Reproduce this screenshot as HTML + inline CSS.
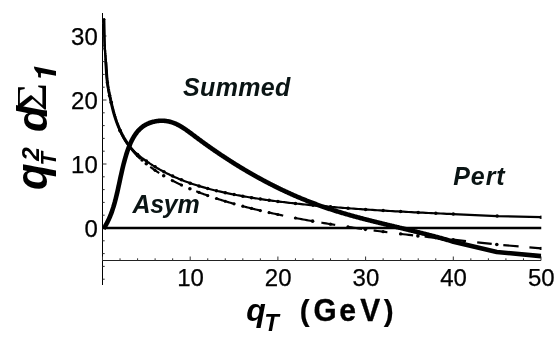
<!DOCTYPE html>
<html><head><meta charset="utf-8"><title>plot</title>
<style>
html,body{margin:0;padding:0;background:#fff;}
body{width:555px;height:345px;overflow:hidden;font-family:"Liberation Sans",sans-serif;}
svg{display:block;will-change:transform;opacity:0.999}
text{font-family:"Liberation Sans",sans-serif;fill:#000}
.tl{font-size:22.5px}
.lb{font-weight:bold;font-style:italic;font-size:25px;fill:#0a1414}
</style></head><body>
<svg width="555" height="345" viewBox="0 0 555 345">
<rect width="555" height="345" fill="#fff"/>
<g stroke="#000" stroke-width="1" fill="none">
<path d="M102.5,13 V285"/>
<path d="M102,260.5 H541" stroke="#222"/>
<path d="M102.50,260.5 V256.5" stroke="#333"/><path d="M120.04,260.5 V258.3" stroke="#333"/><path d="M137.58,260.5 V258.3" stroke="#333"/><path d="M155.12,260.5 V258.3" stroke="#333"/><path d="M172.66,260.5 V258.3" stroke="#333"/><path d="M190.20,260.5 V256.5" stroke="#333"/><path d="M207.74,260.5 V258.3" stroke="#333"/><path d="M225.28,260.5 V258.3" stroke="#333"/><path d="M242.82,260.5 V258.3" stroke="#333"/><path d="M260.36,260.5 V258.3" stroke="#333"/><path d="M277.90,260.5 V256.5" stroke="#333"/><path d="M295.44,260.5 V258.3" stroke="#333"/><path d="M312.98,260.5 V258.3" stroke="#333"/><path d="M330.52,260.5 V258.3" stroke="#333"/><path d="M348.06,260.5 V258.3" stroke="#333"/><path d="M365.60,260.5 V256.5" stroke="#333"/><path d="M383.14,260.5 V258.3" stroke="#333"/><path d="M400.68,260.5 V258.3" stroke="#333"/><path d="M418.22,260.5 V258.3" stroke="#333"/><path d="M435.76,260.5 V258.3" stroke="#333"/><path d="M453.30,260.5 V256.5" stroke="#333"/><path d="M470.84,260.5 V258.3" stroke="#333"/><path d="M488.38,260.5 V258.3" stroke="#333"/><path d="M505.92,260.5 V258.3" stroke="#333"/><path d="M523.46,260.5 V258.3" stroke="#333"/><path d="M541.00,260.5 V256.5" stroke="#333"/><path d="M102.5,279.20 H104.7" stroke="#333"/><path d="M102.5,266.40 H104.7" stroke="#333"/><path d="M102.5,253.60 H104.7" stroke="#333"/><path d="M102.5,240.80 H104.7" stroke="#333"/><path d="M102.5,228.00 H106.5" stroke="#333"/><path d="M102.5,215.20 H104.7" stroke="#333"/><path d="M102.5,202.40 H104.7" stroke="#333"/><path d="M102.5,189.60 H104.7" stroke="#333"/><path d="M102.5,176.80 H104.7" stroke="#333"/><path d="M102.5,164.00 H106.5" stroke="#333"/><path d="M102.5,151.20 H104.7" stroke="#333"/><path d="M102.5,138.40 H104.7" stroke="#333"/><path d="M102.5,125.60 H104.7" stroke="#333"/><path d="M102.5,112.80 H104.7" stroke="#333"/><path d="M102.5,100.00 H106.5" stroke="#333"/><path d="M102.5,87.20 H104.7" stroke="#333"/><path d="M102.5,74.40 H104.7" stroke="#333"/><path d="M102.5,61.60 H104.7" stroke="#333"/><path d="M102.5,48.80 H104.7" stroke="#333"/><path d="M102.5,36.00 H106.5" stroke="#333"/><path d="M102.5,23.20 H104.7" stroke="#333"/>
</g>
<defs><clipPath id="cp"><rect x="102" y="10" width="439.5" height="255"/></clipPath></defs>
<g clip-path="url(#cp)">
<path d="M102.5,228 H541.5" stroke="#000" stroke-width="2.3" fill="none"/>
<g stroke="#000" stroke-width="2.2" fill="none" stroke-linejoin="round"><path d="M104.10,19.02 L104.11,20.18 L104.13,21.31 L104.14,22.41 L104.16,23.48 L104.17,24.52 L104.19,25.53 L104.20,26.52 L104.22,27.48 L104.23,28.41 L104.25,29.32 L104.27,30.20 L104.28,31.06 L104.30,31.90 L104.31,32.71 L104.33,33.49 L104.35,34.26 L104.36,35.00 L104.38,35.72 L104.40,36.42 L104.42,37.11 L104.43,37.77 L104.45,38.41 L104.47,39.03 L104.49,39.63 L104.50,40.22 L104.52,40.79 L104.54,41.35 L104.56,41.88 L104.58,42.41 L104.60,42.91 L104.61,43.40 L104.63,43.88 L104.65,44.35 L104.67,44.80 L104.69,45.24 L104.71,45.67 L104.73,46.09 L104.75,46.50 L104.77,46.89 L104.79,47.28 L104.81,47.66 L104.83,48.03 L104.86,48.39 L104.88,48.75 L104.90,49.10 L104.92,49.44 L104.94,49.77 L104.96,50.10 L104.99,50.43 L105.01,50.75 L105.03,51.07 L105.05,51.39 L105.08,51.70 L105.10,52.01 L105.12,52.32 L105.15,52.63 L105.17,52.94 L105.20,53.24 L105.22,53.55 L105.25,53.86 L105.27,54.18 L105.30,54.49 L105.32,54.81 L105.35,55.13 L105.37,55.45 L105.40,55.78 L105.42,56.12 L105.45,56.46 L105.48,56.80 L105.50,57.16 L105.53,57.52 L105.56,57.88 L105.59,58.26 L105.61,58.64 L105.64,59.04 L105.67,59.44 L105.70,59.86 L105.73,60.28 L105.76,60.72 L105.79,61.16 L105.82,61.62 L105.85,62.08 L105.88,62.55 L105.91,63.03 L105.94,63.52 L105.97,64.01 L106.00,64.50 L106.03,65.01 L106.06,65.51 L106.10,66.02 L106.13,66.54 L106.16,67.05 L106.19,67.57 L106.23,68.09 L106.26,68.61 L106.30,69.13 L106.33,69.65 L106.36,70.17 L106.40,70.69 L106.43,71.21 L106.47,71.72 L106.51,72.23 L106.54,72.73 L106.58,73.24 L106.62,73.73 L106.65,74.23 L106.69,74.72 L106.73,75.20 L106.77,75.68 L106.80,76.16 L106.84,76.63 L106.88,77.10 L106.92,77.56 L106.96,78.02 L107.00,78.48 L107.04,78.93 L107.08,79.37 L107.13,79.82 L107.17,80.25 L107.21,80.68 L107.25,81.11 L107.30,81.53 L107.34,81.95 L107.38,82.36 L107.43,82.77 L107.47,83.17 L107.52,83.57 L107.56,83.96 L107.61,84.34 L107.65,84.73 L107.70,85.10 L107.75,85.47 L107.79,85.84 L107.84,86.20 L107.89,86.56 L107.94,86.91 L107.99,87.26 L108.04,87.60 L108.09,87.94 L108.14,88.28 L108.19,88.61 L108.24,88.94 L108.29,89.26 L108.35,89.58 L108.40,89.90 L108.45,90.22 L108.51,90.53 L108.56,90.84 L108.61,91.14 L108.67,91.44 L108.73,91.74 L108.78,92.04 L108.84,92.34 L108.90,92.63 L108.95,92.92 L109.01,93.21 L109.07,93.49 L109.13,93.78 L109.19,94.06 L109.25,94.34 L109.31,94.62 L109.37,94.90 L109.43,95.18 L109.50,95.46 L109.56,95.73 L109.62,96.01 L109.69,96.28 L109.75,96.55 L109.82,96.83 L109.89,97.10 L109.95,97.37 L110.02,97.65 L110.09,97.92 L110.16,98.19 L110.23,98.47 L110.30,98.74 L110.37,99.01 L110.44,99.29 L110.51,99.56 L110.58,99.84 L110.65,100.12 L110.73,100.40 L110.80,100.68 L110.88,100.96 L110.95,101.24 L111.03,101.53 L111.11,101.81 L111.18,102.10 L111.26,102.39 L111.34,102.68 L111.42,102.98 L111.50,103.28 L111.58,103.58 L111.67,103.88 L111.75,104.18 L111.83,104.49 L111.92,104.80 L112.00,105.12 L112.09,105.43 L112.17,105.75 L112.26,106.08 L112.35,106.41 L112.44,106.74 L112.53,107.07 L112.62,107.41 L112.71,107.75 L112.80,108.09 L112.90,108.43 L112.99,108.78 L113.08,109.13 L113.18,109.49 L113.28,109.84 L113.37,110.20 L113.47,110.56 L113.57,110.92 L113.67,111.29 L113.77,111.65 L113.87,112.02 L113.98,112.40 L114.08,112.77 L114.19,113.14 L114.29,113.52 L114.40,113.90 L114.51,114.28 L114.61,114.66 L114.72,115.04 L114.83,115.43 L114.95,115.81 L115.06,116.20 L115.17,116.58 L115.29,116.97 L115.40,117.36 L115.52,117.75 L115.64,118.14 L115.75,118.54 L115.87,118.93 L116.00,119.32 L116.12,119.72 L116.24,120.11 L116.36,120.51 L116.49,120.90 L116.62,121.30 L116.74,121.69 L116.87,122.09 L117.00,122.48 L117.13,122.88 L117.27,123.27 L117.40,123.67 L117.53,124.06 L117.67,124.46 L117.81,124.85 L117.95,125.24 L118.09,125.64 L118.23,126.03 L118.37,126.42 L118.51,126.81 L118.66,127.20 L118.80,127.59 L118.95,127.97 L119.10,128.36 L119.25,128.74 L119.40,129.13 L119.55,129.51 L119.71,129.89 L119.86,130.27 L120.02,130.65 L120.18,131.02 L120.34,131.40 L120.50,131.77 L120.66,132.14 L120.82,132.51 L120.99,132.88 L121.16,133.24 L121.33,133.61 L121.50,133.97 L121.67,134.33 L121.84,134.69 L122.02,135.05 L122.19,135.41 L122.37,135.76 L122.55,136.11 L122.73,136.46 L122.91,136.81 L123.10,137.16 L123.28,137.51 L123.47,137.85 L123.66,138.19 L123.85,138.53 L124.05,138.87 L124.24,139.21 L124.44,139.54 L124.64,139.87 L124.84,140.20 L125.04,140.53 L125.24,140.86 L125.45,141.18 L125.65,141.50 L125.86,141.82 L126.07,142.14 L126.29,142.46 L126.50,142.77 L126.72,143.08 L126.94,143.39 L127.16,143.70 L127.38,144.01 L127.61,144.31 L127.83,144.61 L128.06,144.91 L128.29,145.21 L128.53,145.51 L128.76,145.80 L129.00,146.09 L129.24,146.38 L129.48,146.67 L129.73,146.95 L129.97,147.23 L130.22,147.51 L130.47,147.79 L130.72,148.07 L130.98,148.35 L131.24,148.62 L131.49,148.89 L131.76,149.17 L132.02,149.44 L132.29,149.70 L132.56,149.97 L132.83,150.24 L133.10,150.50 L133.38,150.77 L133.66,151.03 L133.94,151.30 L134.22,151.56 L134.51,151.82 L134.80,152.08 L135.09,152.34 L135.39,152.60 L135.68,152.86 L135.98,153.12 L136.29,153.38 L136.59,153.64 L136.90,153.90 L137.21,154.16 L137.53,154.41 L137.84,154.67 L138.16,154.93 L138.48,155.19 L138.81,155.45 L139.14,155.71 L139.47,155.97 L139.80,156.23 L140.14,156.50 L140.48,156.76 L140.82,157.02 L141.17,157.29 L141.52,157.55 L141.87,157.82 L142.23,158.08 L142.59,158.35 L142.95,158.62 L143.31,158.89 L143.68,159.16 L144.05,159.43 L144.43,159.71 L144.81,159.98 L145.19,160.26 L145.58,160.53 L145.97,160.81 L146.36,161.08 L146.76,161.36 L147.16,161.64 L147.56,161.92 L147.97,162.20 L148.38,162.48 L148.79,162.76 L149.21,163.04 L149.63,163.33 L150.06,163.61 L150.49,163.89 L150.92,164.18 L151.36,164.46 L151.80,164.75 L152.25,165.03 L152.70,165.32 L153.15,165.61 L153.61,165.89 L154.07,166.18 L154.54,166.47 L155.01,166.76 L155.48,167.05 L155.96,167.33 L156.44,167.62 L156.93,167.91 L157.42,168.20 L157.92,168.49 L158.42,168.78 L158.93,169.07 L159.44,169.37 L159.95,169.66 L160.47,169.95 L160.99,170.24 L161.52,170.53 L162.06,170.82 L162.59,171.11 L163.14,171.40 L163.68,171.70 L164.24,171.99 L164.80,172.28 L165.36,172.57 L165.93,172.86 L166.50,173.15 L167.08,173.44 L167.66,173.74 L168.25,174.03 L168.84,174.32 L169.44,174.61 L170.05,174.90 L170.66,175.19 L171.28,175.48 L171.90,175.77 L172.52,176.06 L173.16,176.35 L173.80,176.64 L174.44,176.92 L175.09,177.21 L175.75,177.50 L176.41,177.79 L177.08,178.07 L177.75,178.36 L178.43,178.65 L179.12,178.93 L179.81,179.22 L180.51,179.50 L181.21,179.78 L181.93,180.07 L182.64,180.35 L183.37,180.63 L184.10,180.91 L184.84,181.19 L185.58,181.47 L186.33,181.75 L187.09,182.03 L187.85,182.31 L188.62,182.58 L189.40,182.86 L190.19,183.14 L190.98,183.41 L191.78,183.68 L192.59,183.96 L193.40,184.23 L194.22,184.50 L195.05,184.77 L195.89,185.04 L196.73,185.31 L197.58,185.57 L198.44,185.84 L199.31,186.10 L200.19,186.37 L201.07,186.63 L201.96,186.89 L202.86,187.16 L203.76,187.42 L204.68,187.67 L205.60,187.93 L206.54,188.19 L207.48,188.45 L208.42,188.70 L209.38,188.95 L210.35,189.21 L211.32,189.46 L212.31,189.71 L213.30,189.96 L214.30,190.21 L215.31,190.46 L216.33,190.71 L217.36,190.95 L218.40,191.20 L219.44,191.44 L220.50,191.68 L221.57,191.93 L222.64,192.17 L223.73,192.41 L224.83,192.65 L225.93,192.88 L227.05,193.12 L228.17,193.36 L229.31,193.59 L230.45,193.83 L231.61,194.06 L232.78,194.29 L233.95,194.52 L235.14,194.76 L236.34,194.98 L237.55,195.21 L238.77,195.44 L240.00,195.67 L241.25,195.89 L242.50,196.12 L243.77,196.34 L245.04,196.56 L246.33,196.78 L247.63,197.01 L248.94,197.23 L250.27,197.44 L251.60,197.66 L252.95,197.88 L254.31,198.09 L255.68,198.31 L257.06,198.52 L258.46,198.74 L259.87,198.95 L261.29,199.16 L262.73,199.37 L264.18,199.58 L265.64,199.79 L267.11,199.99 L268.60,200.20 L270.10,200.40 L271.62,200.61 L273.14,200.81 L274.69,201.01 L276.24,201.22 L277.81,201.42 L279.40,201.62 L281.00,201.81 L282.61,202.01 L284.24,202.21 L285.88,202.40 L287.54,202.60 L289.21,202.79 L290.90,202.99 L292.60,203.18 L294.32,203.37 L296.05,203.56 L297.80,203.75 L299.57,203.94 L301.35,204.12 L303.14,204.31 L304.96,204.49 L306.79,204.68 L308.63,204.86 L310.50,205.04 L312.38,205.23 L314.27,205.41 L316.19,205.59 L318.12,205.76 L320.07,205.94 L322.03,206.12 L324.02,206.30 L326.02,206.47 L328.04,206.64 L330.08,206.82 L332.13,206.99 L334.21,207.16 L336.30,207.33 L338.42,207.50 L340.55,207.67 L342.70,207.84 L344.87,208.00 L347.06,208.17 L349.27,208.33 L351.50,208.50 L353.75,208.66 L356.02,208.82 L358.32,208.98 L360.63,209.14 L362.96,209.30 L365.31,209.46 L367.69,209.62 L370.09,209.77 L372.50,209.93 L374.95,210.08 L377.41,210.24 L379.89,210.39 L382.40,210.54 L384.93,210.69 L387.48,210.84 L390.06,210.99 L392.66,211.14 L395.28,211.29 L397.92,211.43 L400.59,211.58 L403.29,211.72 L406.01,211.87 L408.75,212.01 L411.52,212.15 L414.31,212.29 L417.13,212.43 L419.97,212.57 L422.84,212.71 L425.74,212.85 L428.66,212.98 L431.61,213.12 L434.58,213.25 L437.58,213.39 L440.61,213.52 L443.67,213.65 L446.75,213.78 L449.86,213.91 L453.00,214.04 L496.80,216.10 L541.00,217.20"/></g>
<g fill="#000"><circle cx="104.10" cy="19.3" r="1.2"/><circle cx="104.70" cy="45.5" r="1.2"/><circle cx="105.69" cy="59.7" r="1.2"/><circle cx="106.41" cy="70.8" r="1.2"/><circle cx="107.41" cy="82.63" r="1.75"/><circle cx="109.52" cy="95.54" r="1.75"/><circle cx="111.27" cy="102.42" r="1.75"/><circle cx="120.04" cy="130.70" r="1.75"/><circle cx="128.81" cy="145.86" r="1.75"/><circle cx="137.58" cy="154.46" r="1.75"/><circle cx="146.35" cy="161.08" r="1.75"/><circle cx="155.12" cy="166.83" r="1.75"/><circle cx="163.89" cy="171.80" r="1.75"/><circle cx="172.66" cy="176.12" r="1.75"/><circle cx="181.43" cy="179.87" r="1.75"/><circle cx="190.20" cy="183.14" r="1.75"/><circle cx="198.97" cy="186.00" r="1.75"/><circle cx="207.74" cy="188.52" r="1.75"/><circle cx="216.51" cy="190.75" r="1.75"/><circle cx="225.28" cy="192.74" r="1.75"/><circle cx="234.05" cy="194.54" r="1.75"/><circle cx="242.82" cy="196.17" r="1.75"/><circle cx="251.59" cy="197.66" r="1.75"/><circle cx="260.36" cy="199.02" r="1.75"/><circle cx="269.13" cy="200.27" r="1.75"/><circle cx="277.90" cy="201.43" r="1.75"/><circle cx="295.44" cy="203.49" r="1.75"/><circle cx="312.98" cy="205.28" r="1.75"/><circle cx="330.52" cy="206.85" r="1.75"/><circle cx="348.06" cy="208.24" r="1.75"/><circle cx="365.60" cy="209.48" r="1.75"/><circle cx="383.14" cy="210.59" r="1.75"/><circle cx="400.68" cy="211.58" r="1.75"/><circle cx="418.22" cy="212.49" r="1.75"/><circle cx="435.76" cy="213.31" r="1.75"/><circle cx="453.30" cy="214.06" r="1.75"/><circle cx="497.15" cy="216.11" r="1.75"/><circle cx="541.00" cy="217.20" r="1.75"/></g>
<g stroke="#000" stroke-width="2.15" fill="none" stroke-linejoin="round"><path d="M104.10,19.02 L104.11,20.22 L104.13,21.39 L104.14,22.53 L104.16,23.63 L104.17,24.70 L104.19,25.74 L104.20,26.75 L104.22,27.73 L104.23,28.68 L104.25,29.60 L104.27,30.50 L104.28,31.36 L104.30,32.20 L104.31,33.02 L104.33,33.81 L104.35,34.57 L104.36,35.31 L104.38,36.03 L104.40,36.73 L104.42,37.40 L104.43,38.05 L104.45,38.68 L104.47,39.29 L104.49,39.88 L104.50,40.45 L104.52,41.00 L104.54,41.54 L104.56,42.05 L104.58,42.55 L104.60,43.04 L104.61,43.51 L104.63,43.97 L104.65,44.41 L104.67,44.83 L104.69,45.25 L104.71,45.65 L104.73,46.05 L104.75,46.43 L104.77,46.80 L104.79,47.16 L104.81,47.51 L104.83,47.85 L104.86,48.19 L104.88,48.52 L104.90,48.84 L104.92,49.16 L104.94,49.47 L104.96,49.78 L104.99,50.08 L105.01,50.38 L105.03,50.68 L105.05,50.98 L105.08,51.27 L105.10,51.56 L105.12,51.86 L105.15,52.15 L105.17,52.45 L105.20,52.74 L105.22,53.04 L105.25,53.34 L105.27,53.65 L105.30,53.96 L105.32,54.27 L105.35,54.60 L105.37,54.92 L105.40,55.26 L105.42,55.60 L105.45,55.95 L105.48,56.30 L105.50,56.67 L105.53,57.05 L105.56,57.44 L105.59,57.83 L105.61,58.24 L105.64,58.67 L105.67,59.10 L105.70,59.55 L105.73,60.02 L105.76,60.50 L105.79,60.99 L105.82,61.49 L105.85,62.00 L105.88,62.52" stroke-width="2.3"/><path d="M105.88,62.52 L105.91,63.05 L105.94,63.59 L105.97,64.13 L106.00,64.68 L106.03,65.24 L106.06,65.80 L106.10,66.36 L106.13,66.92 L106.16,67.49 L106.19,68.05 L106.23,68.61 L106.26,69.17 L106.30,69.73 L106.33,70.29 L106.36,70.84 L106.40,71.38 L106.43,71.91 L106.47,72.44 L106.51,72.96 L106.54,73.47 L106.58,73.97 L106.62,74.46 L106.65,74.94 L106.69,75.42 L106.73,75.88 L106.77,76.34 L106.80,76.79 L106.84,77.23 L106.88,77.66 L106.92,78.08 L106.96,78.50 L107.00,78.91 L107.04,79.31 L107.08,79.70 L107.13,80.09 L107.17,80.48 L107.21,80.85 L107.25,81.22 L107.30,81.59 L107.34,81.94 L107.38,82.30 L107.43,82.64 L107.47,82.99 L107.52,83.32 L107.56,83.66 L107.61,83.99 L107.65,84.31 L107.70,84.63 L107.75,84.95 L107.79,85.26 L107.84,85.57 L107.89,85.87 L107.94,86.18 L107.99,86.48 L108.04,86.77 L108.09,87.07 L108.14,87.36 L108.19,87.65 L108.24,87.94 L108.29,88.22 L108.35,88.51 L108.40,88.79 L108.45,89.08 L108.51,89.36 L108.56,89.64 L108.61,89.92 L108.67,90.20 L108.73,90.48 L108.78,90.76 L108.84,91.04 L108.90,91.32 L108.95,91.60 L109.01,91.88 L109.07,92.16 L109.13,92.45 L109.19,92.74 L109.25,93.02 L109.31,93.31 L109.37,93.60 L109.43,93.90 L109.50,94.19 L109.56,94.49 L109.62,94.79 L109.69,95.10 L109.75,95.41 L109.82,95.72 L109.89,96.03 L109.95,96.35 L110.02,96.68 L110.09,97.00 L110.16,97.33 L110.23,97.67 L110.30,98.01 L110.37,98.35 L110.44,98.69 L110.51,99.04 L110.58,99.39 L110.65,99.75 L110.73,100.10 L110.80,100.46 L110.88,100.82 L110.95,101.18 L111.03,101.55 L111.11,101.92 L111.18,102.28 L111.26,102.65 L111.34,103.02 L111.42,103.39 L111.50,103.77 L111.58,104.14 L111.67,104.51 L111.75,104.89 L111.83,105.26 L111.92,105.63 L112.00,106.01 L112.09,106.38 L112.17,106.75 L112.26,107.12 L112.35,107.49 L112.44,107.86 L112.53,108.23 L112.62,108.60 L112.71,108.97 L112.80,109.34 L112.90,109.71 L112.99,110.07 L113.08,110.44 L113.18,110.81 L113.28,111.17 L113.37,111.53 L113.47,111.90 L113.57,112.26 L113.67,112.62 L113.77,112.99 L113.87,113.35 L113.98,113.71 L114.08,114.07 L114.19,114.43 L114.29,114.79 L114.40,115.15 L114.51,115.51 L114.61,115.86 L114.72,116.22 L114.83,116.58 L114.95,116.93 L115.06,117.29 L115.17,117.65 L115.29,118.00 L115.40,118.35 L115.52,118.71 L115.64,119.06 L115.75,119.41 L115.87,119.77 L116.00,120.12 L116.12,120.47 L116.24,120.82 L116.36,121.17 L116.49,121.52 L116.62,121.87 L116.74,122.22 L116.87,122.57 L117.00,122.92 L117.13,123.26 L117.27,123.61 L117.40,123.96 L117.53,124.30 L117.67,124.65 L117.81,125.00 L117.95,125.34 L118.09,125.69 L118.23,126.03 L118.37,126.38 L118.51,126.72 L118.66,127.06 L118.80,127.41 L118.95,127.75 L119.10,128.09 L119.25,128.43 L119.40,128.77 L119.55,129.11 L119.71,129.45 L119.86,129.80 L120.02,130.14 L120.18,130.47 L120.34,130.81 L120.50,131.15 L120.66,131.49 L120.82,131.83 L120.99,132.17 L121.16,132.51 L121.33,132.84 L121.50,133.18 L121.67,133.52 L121.84,133.85 L122.02,134.19 L122.19,134.53 L122.37,134.86 L122.55,135.20 L122.73,135.53 L122.91,135.87 L123.10,136.20 L123.28,136.53 L123.47,136.87 L123.66,137.20 L123.85,137.54 L124.05,137.87 L124.24,138.20 L124.44,138.53 L124.64,138.87 L124.84,139.20 L125.04,139.53 L125.24,139.86 L125.45,140.19 L125.65,140.52 L125.86,140.86 L126.07,141.19 L126.29,141.52 L126.50,141.85 L126.72,142.18 L126.94,142.51 L127.16,142.84 L127.38,143.17 L127.61,143.50 L127.83,143.83 L128.06,144.16 L128.29,144.48 L128.53,144.81 L128.76,145.14 L129.00,145.47 L129.24,145.80 L129.48,146.13 L129.73,146.46 L129.97,146.78 L130.22,147.11 L130.47,147.44 L130.72,147.77 L130.98,148.09 L131.24,148.42 L131.49,148.75 L131.76,149.08 L132.02,149.40 L132.29,149.73 L132.56,150.06 L132.83,150.38 L133.10,150.71 L133.38,151.04 L133.66,151.36 L133.94,151.69 L134.22,152.02 L134.51,152.34 L134.80,152.67 L135.09,153.00 L135.39,153.32 L135.68,153.65 L135.98,153.97 L136.29,154.30 L136.59,154.63 L136.90,154.95 L137.21,155.28 L137.53,155.60 L137.84,155.93 L138.16,156.25 L138.48,156.58 L138.81,156.91 L139.14,157.23 L139.47,157.56 L139.80,157.88" stroke-width="3.0" stroke-linecap="round"/><path d="M150.20,166.77 L150.49,166.99 L150.92,167.31 L151.36,167.64 L151.80,167.96 L152.25,168.29 L152.70,168.61 L153.15,168.94 L153.61,169.26 L154.07,169.59 L154.54,169.91 L155.01,170.24 L155.48,170.57 L155.96,170.89 L156.44,171.22 L156.93,171.54 L157.42,171.87 L157.92,172.19 L158.42,172.52 L158.93,172.84 L159.20,173.02"/><path d="M171.00,179.87 L171.28,180.02 L171.90,180.34 L172.52,180.67 L173.16,181.00 L173.80,181.32 L174.44,181.65 L175.09,181.98 L175.75,182.30 L176.41,182.63 L177.08,182.96 L177.75,183.28 L178.43,183.61 L179.12,183.94 L179.81,184.27 L180.51,184.59 L181.21,184.92 L181.93,185.25 L182.64,185.58 L182.70,185.60"/><path d="M196.20,191.29 L196.73,191.50 L197.58,191.83 L198.44,192.16 L199.31,192.49 L200.19,192.82 L201.07,193.15 L201.96,193.48 L202.86,193.81 L203.76,194.14 L204.68,194.47 L205.60,194.80 L206.54,195.13 L207.48,195.46 L208.42,195.80 L208.80,195.93"/><path d="M215.80,198.28 L216.33,198.45 L217.36,198.78 L218.40,199.12 L219.44,199.45 L220.50,199.78 L221.57,200.11 L222.64,200.45 L223.73,200.78 L224.83,201.11 L225.93,201.45 L227.05,201.78 L228.17,202.11 L229.31,202.45 L230.45,202.78 L231.61,203.11 L232.78,203.45 L233.95,203.78 L235.00,204.08"/><path d="M242.20,206.04 L242.50,206.12 L243.77,206.45 L245.04,206.79 L246.33,207.12 L247.63,207.46 L248.94,207.79 L250.27,208.12 L251.60,208.46 L252.95,208.79 L254.31,209.13 L255.68,209.46 L257.06,209.79 L258.46,210.13 L259.87,210.46 L260.70,210.66"/><path d="M268.00,212.33 L268.60,212.46 L270.10,212.80 L271.62,213.13 L273.14,213.47 L274.69,213.80 L276.24,214.13 L277.81,214.47 L279.40,214.80 L281.00,215.13 L282.61,215.46 L283.20,215.59"/><path d="M295.00,217.93 L296.05,218.13 L297.80,218.46 L299.57,218.79 L301.35,219.12 L303.14,219.45 L304.96,219.79 L306.79,220.12 L308.63,220.45 L310.50,220.78 L312.00,221.05"/><path d="M321.40,222.66 L322.03,222.77 L324.02,223.10 L326.02,223.43 L328.04,223.76 L330.08,224.09 L332.13,224.41 L334.21,224.74 L335.20,224.90"/><path d="M346.80,226.68 L347.06,226.72 L349.27,227.04 L351.50,227.37 L353.75,227.70 L356.02,228.03 L358.32,228.35 L360.63,228.68 L362.00,228.87"/><path d="M373.60,230.46 L374.95,230.64 L377.41,230.96 L379.89,231.29 L382.40,231.61 L384.93,231.93 L387.40,232.25"/><path d="M399.30,233.72 L400.59,233.87 L403.29,234.20 L406.01,234.52 L408.75,234.84 L411.52,235.16 L413.10,235.34"/><path d="M424.70,236.65 L425.74,236.76 L428.66,237.08 L431.61,237.40 L434.58,237.72 L437.00,237.98"/><path d="M451.50,239.47 L453.00,239.62 L466.00,241.07"/><path d="M477.20,242.32 L491.70,243.93"/><path d="M503.30,245.07 L518.60,246.42"/><path d="M529.40,247.38 L541.00,248.40"/></g>
<g fill="#000"><circle cx="111.27" cy="102.69" r="1.6"/><circle cx="120.04" cy="130.18" r="1.6"/><circle cx="128.81" cy="145.21" r="1.6"/><circle cx="137.58" cy="155.66" r="1.6"/><circle cx="155.12" cy="170.32" r="1.6"/><circle cx="172.66" cy="180.74" r="1.6"/><circle cx="181.43" cy="185.02" r="1.6"/><circle cx="198.97" cy="192.36" r="1.6"/><circle cx="207.74" cy="195.56" r="1.6"/><circle cx="216.51" cy="198.51" r="1.6"/><circle cx="225.28" cy="201.25" r="1.6"/><circle cx="234.05" cy="203.81" r="1.6"/><circle cx="242.82" cy="206.20" r="1.6"/><circle cx="251.59" cy="208.45" r="1.6"/><circle cx="260.36" cy="210.58" r="1.6"/><circle cx="269.13" cy="212.58" r="1.6"/><circle cx="277.90" cy="214.48" r="1.6"/><circle cx="295.44" cy="218.01" r="1.6"/><circle cx="330.52" cy="224.16" r="1.6"/><circle cx="348.06" cy="226.86" r="1.6"/><circle cx="383.14" cy="231.70" r="1.6"/><circle cx="400.68" cy="233.88" r="1.6"/><circle cx="435.76" cy="237.84" r="1.6"/><circle cx="453.30" cy="239.66" r="1.6"/><circle cx="541.00" cy="248.40" r="1.6"/><circle cx="142.10" cy="160.04" r="1.8"/><circle cx="146.30" cy="163.69" r="1.8"/><circle cx="163.70" cy="175.78" r="1.8"/><circle cx="189.90" cy="188.74" r="1.8"/><circle cx="312.60" cy="221.15" r="1.8"/><circle cx="365.40" cy="229.34" r="1.8"/><circle cx="417.90" cy="235.89" r="1.8"/><circle cx="496.80" cy="244.50" r="1.8"/></g>
<path d="M103.46,228.81 L103.87,228.21 L104.26,227.61 L104.65,227.00 L105.04,226.38 L105.41,225.76 L105.78,225.13 L106.14,224.50 L106.49,223.86 L106.84,223.22 L107.18,222.58 L107.52,221.93 L107.85,221.27 L108.17,220.61 L108.49,219.95 L108.80,219.28 L109.10,218.61 L109.40,217.93 L109.69,217.25 L109.98,216.57 L110.26,215.89 L110.54,215.20 L110.81,214.51 L111.08,213.81 L111.34,213.11 L111.60,212.41 L111.85,211.71 L112.10,211.00 L112.34,210.29 L112.58,209.58 L112.82,208.87 L113.05,208.15 L113.27,207.44 L113.50,206.72 L113.71,206.00 L113.93,205.28 L114.14,204.55 L114.35,203.83 L114.55,203.10 L114.76,202.38 L114.95,201.65 L115.15,200.92 L115.34,200.19 L115.53,199.46 L115.72,198.73 L115.90,198.00 L116.08,197.27 L116.26,196.54 L116.44,195.81 L116.62,195.08 L116.79,194.35 L116.96,193.62 L117.13,192.89 L117.30,192.16 L117.46,191.43 L117.63,190.70 L117.79,189.98 L117.96,189.25 L118.12,188.52 L118.28,187.79 L118.44,187.06 L118.59,186.33 L118.75,185.60 L118.91,184.87 L119.07,184.14 L119.22,183.41 L119.38,182.69 L119.54,181.96 L119.69,181.23 L119.85,180.50 L120.01,179.76 L120.16,179.03 L120.32,178.30 L120.48,177.57 L120.64,176.84 L120.80,176.11 L120.96,175.37 L121.12,174.64 L121.28,173.90 L121.45,173.17 L121.61,172.43 L121.78,171.70 L121.95,170.96 L122.12,170.22 L122.29,169.49 L122.46,168.75 L122.64,168.01 L122.82,167.27 L123.00,166.52 L123.18,165.78 L123.37,165.04 L123.55,164.29 L123.74,163.55 L123.94,162.80 L124.13,162.06 L124.33,161.31 L124.54,160.56 L124.74,159.81 L124.95,159.06 L125.17,158.30 L125.38,157.55 L125.60,156.80 L125.83,156.05 L126.05,155.29 L126.29,154.54 L126.52,153.79 L126.76,153.04 L127.01,152.29 L127.26,151.55 L127.51,150.81 L127.77,150.06 L128.03,149.33 L128.30,148.59 L128.58,147.86 L128.86,147.13 L129.14,146.41 L129.43,145.69 L129.73,144.98 L130.03,144.27 L130.33,143.57 L130.65,142.87 L130.96,142.18 L131.29,141.50 L131.62,140.82 L131.96,140.15 L132.30,139.49 L132.65,138.83 L133.01,138.18 L133.37,137.54 L133.74,136.91 L134.12,136.29 L134.51,135.68 L134.90,135.07 L135.30,134.48 L135.71,133.89 L136.13,133.31 L136.56,132.75 L137.00,132.19 L137.44,131.65 L137.90,131.11 L138.36,130.59 L138.84,130.08 L139.33,129.58 L139.83,129.09 L140.33,128.61 L140.85,128.14 L141.39,127.69 L141.93,127.24 L142.48,126.81 L143.05,126.40 L143.63,125.99 L144.23,125.60 L144.83,125.23 L145.45,124.86 L146.09,124.51 L146.74,124.18 L147.40,123.85 L148.07,123.55 L148.77,123.25 L149.47,122.98 L150.19,122.71 L150.93,122.47 L151.67,122.23 L152.43,122.02 L153.19,121.82 L153.97,121.63 L154.75,121.47 L155.53,121.31 L156.32,121.18 L157.11,121.06 L157.90,120.96 L158.69,120.88 L159.49,120.81 L160.27,120.77 L161.06,120.74 L161.84,120.73 L162.61,120.73 L163.38,120.76 L164.14,120.80 L164.89,120.86 L165.64,120.94 L166.37,121.04 L167.10,121.15 L167.83,121.28 L168.55,121.43 L169.26,121.59 L169.97,121.76 L170.67,121.95 L171.36,122.16 L172.05,122.38 L172.74,122.61 L173.42,122.85 L174.09,123.11 L174.76,123.38 L175.42,123.66 L176.09,123.96 L176.74,124.26 L177.39,124.58 L178.04,124.90 L178.68,125.24 L179.33,125.58 L179.96,125.94 L180.60,126.30 L181.23,126.67 L181.85,127.05 L182.48,127.44 L183.10,127.83 L183.72,128.23 L184.34,128.64 L184.95,129.05 L185.57,129.47 L186.18,129.89 L186.79,130.32 L187.40,130.76 L188.00,131.19 L188.61,131.63 L189.21,132.08 L189.82,132.53 L190.42,132.97 L191.02,133.43 L191.63,133.88 L192.23,134.33 L192.83,134.79 L193.43,135.24 L194.04,135.70 L194.64,136.15 L195.24,136.61 L195.85,137.06 L196.45,137.52 L197.06,137.97 L197.67,138.42 L198.27,138.87 L198.88,139.32 L199.49,139.77 L200.10,140.22 L200.71,140.67 L201.32,141.12 L201.93,141.56 L202.54,142.01 L203.16,142.45 L203.77,142.90 L204.38,143.34 L205.00,143.79 L205.61,144.23 L206.23,144.67 L206.85,145.11 L207.46,145.55 L208.08,145.99 L208.70,146.43 L209.32,146.87 L209.94,147.30 L210.56,147.74 L211.18,148.17 L211.80,148.61 L212.42,149.04 L213.05,149.47 L213.67,149.91 L214.29,150.34 L214.92,150.77 L215.54,151.20 L216.17,151.63 L216.80,152.05 L217.42,152.48 L218.05,152.91 L218.68,153.33 L219.31,153.76 L219.94,154.18 L220.57,154.60 L221.20,155.03 L221.83,155.45 L222.46,155.87 L223.10,156.29 L223.73,156.71 L224.36,157.12 L225.00,157.54 L225.63,157.96 L226.27,158.37 L226.91,158.78 L227.54,159.20 L228.18,159.61 L228.82,160.02 L229.46,160.43 L230.10,160.84 L230.74,161.25 L231.38,161.66 L232.02,162.06 L232.66,162.47 L233.30,162.87 L233.94,163.28 L234.59,163.68 L235.23,164.08 L235.87,164.48 L236.52,164.88 L237.16,165.28 L237.81,165.68 L238.46,166.08 L239.10,166.48 L239.75,166.87 L240.40,167.27 L241.05,167.66 L241.70,168.05 L242.35,168.44 L243.00,168.83 L243.65,169.22 L244.30,169.61 L244.95,170.00 L245.61,170.38 L246.26,170.77 L246.91,171.15 L247.57,171.54 L248.22,171.92 L248.88,172.30 L249.53,172.68 L250.19,173.06 L250.85,173.44 L251.50,173.82 L252.16,174.19 L252.82,174.57 L253.48,174.94 L254.14,175.31 L254.80,175.69 L255.46,176.06 L256.12,176.43 L256.78,176.79 L257.45,177.16 L258.11,177.53 L258.77,177.89 L259.44,178.26 L260.10,178.62 L260.76,178.98 L261.43,179.34 L262.10,179.70 L262.76,180.06 L263.43,180.42 L264.10,180.78 L264.76,181.13 L265.43,181.49 L266.10,181.84 L266.77,182.19 L267.44,182.54 L268.11,182.89 L268.78,183.24 L269.45,183.59 L270.12,183.93 L270.79,184.28 L271.47,184.62 L272.14,184.96 L272.81,185.31 L273.49,185.65 L274.16,185.99 L274.84,186.32 L275.51,186.66 L276.19,187.00 L276.86,187.33 L277.54,187.66 L278.22,188.00 L278.90,188.33 L279.57,188.66 L280.25,188.98 L280.93,189.31 L281.61,189.64 L282.29,189.96 L282.97,190.29 L283.65,190.61 L284.34,190.93 L285.02,191.25 L285.70,191.57 L286.38,191.88 L287.07,192.20 L287.75,192.51 L288.43,192.83 L289.12,193.14 L289.80,193.45 L290.49,193.76 L291.17,194.07 L291.86,194.38 L292.55,194.68 L293.23,194.99 L293.92,195.29 L294.61,195.59 L295.30,195.89 L295.99,196.19 L296.67,196.49 L297.36,196.79 L298.05,197.08 L298.75,197.37 L299.44,197.67 L300.13,197.96 L300.82,198.25 L301.51,198.54 L302.20,198.82 L302.90,199.11 L303.59,199.40 L304.28,199.68 L304.98,199.96 L305.67,200.24 L306.37,200.52 L307.06,200.80 L307.76,201.07 L308.45,201.35 L309.15,201.62 L309.85,201.90 L310.54,202.17 L311.24,202.44 L311.94,202.70 L312.64,202.97 L313.34,203.24 L314.04,203.50 L314.74,203.76 L315.44,204.02 L316.14,204.28 L316.84,204.54 L317.54,204.80 L318.24,205.05 L318.94,205.31 L319.64,205.56 L320.35,205.81 L321.05,206.06 L321.75,206.31 L322.45,206.55 L323.16,206.80 L323.86,207.04 L324.57,207.29 L325.27,207.53 L325.98,207.77 L326.68,208.01 L327.39,208.24 L328.10,208.48 L328.80,208.71 L329.51,208.95 L330.22,209.18 L330.93,209.41 L331.63,209.64 L332.34,209.87 L333.05,210.09 L333.76,210.32 L334.47,210.54 L335.18,210.77 L335.89,210.99 L336.60,211.21 L337.31,211.43 L338.02,211.65 L338.73,211.87 L339.44,212.08 L340.16,212.30 L340.87,212.51 L341.58,212.73 L342.29,212.94 L343.01,213.15 L343.72,213.36 L344.43,213.57 L345.15,213.78 L345.86,213.99 L346.58,214.20 L347.29,214.40 L348.01,214.61 L348.72,214.81 L349.44,215.01 L350.16,215.21 L350.87,215.42 L351.59,215.62 L352.31,215.82 L353.02,216.02 L353.74,216.21 L354.46,216.41 L355.18,216.61 L355.90,216.80 L356.62,217.00 L357.34,217.19 L358.05,217.39 L358.77,217.58 L359.49,217.77 L360.21,217.96 L360.94,218.15 L361.66,218.34 L362.38,218.53 L363.10,218.72 L363.82,218.91 L364.54,219.10 L365.26,219.28 L365.99,219.47 L366.71,219.66 L367.43,219.84 L368.16,220.03 L368.88,220.21 L369.60,220.39 L370.33,220.58 L371.05,220.76 L371.78,220.94 L372.50,221.13 L373.22,221.31 L373.95,221.49 L374.68,221.67 L375.40,221.85 L376.13,222.03 L376.85,222.21 L377.58,222.39 L378.31,222.57 L379.03,222.75 L379.76,222.92 L380.49,223.10 L381.21,223.28 L381.94,223.46 L382.67,223.64 L383.40,223.81 L384.13,223.99 L384.86,224.17 L385.58,224.34 L386.31,224.52 L387.04,224.70 L387.77,224.87 L388.50,225.05 L389.23,225.22 L389.96,225.40 L390.69,225.58 L391.42,225.75 L392.15,225.93 L392.88,226.10 L393.61,226.28 L394.35,226.45 L395.08,226.63 L395.81,226.80 L396.54,226.98 L397.27,227.15 L398.00,227.33 L398.74,227.51 L399.47,227.68 L400.20,227.86 L400.94,228.03 L401.67,228.21 L402.40,228.39 L403.14,228.56 L403.87,228.74 L404.60,228.91 L405.34,229.09 L406.07,229.27 L406.81,229.45 L407.54,229.62 L408.27,229.80 L409.01,229.98 L409.74,230.16 L410.48,230.34 L411.22,230.52 L411.95,230.69 L412.69,230.87 L413.42,231.05 L414.16,231.23 L414.89,231.41 L415.63,231.60 L416.37,231.78 L417.10,231.96 L417.84,232.14 L418.58,232.32 L419.31,232.51 L420.05,232.69 L420.79,232.88 L421.53,233.06 L422.26,233.25 L423.00,233.43 L423.74,233.62 L424.48,233.80 L425.21,233.99 L425.95,234.18 L426.69,234.37 L427.43,234.56 L428.17,234.75 L428.91,234.94 L429.65,235.13 L430.38,235.32 L431.12,235.51 L431.86,235.71 L432.60,235.90 L433.34,236.09 L434.08,236.29 L434.82,236.49 L435.56,236.68 L436.30,236.88 L437.04,237.08 L437.78,237.28 L438.52,237.48 L439.26,237.68 L440.00,237.88 L440.74,238.08 L441.48,238.29 L442.22,238.49 L442.96,238.70 L443.70,238.90 L444.44,239.11 L445.18,239.32 L445.93,239.53 L446.67,239.74 L447.41,239.95 L448.15,240.16 L448.89,240.38 L449.63,240.59 L450.37,240.80 L451.11,241.02 L451.86,241.24 L452.60,241.46 L453.34,241.68 L496.80,252.00 L541.00,256.10" stroke="#000" stroke-width="4.6" fill="none" stroke-linejoin="round" stroke-linecap="butt"/>
</g>
<text transform="translate(97.8,44.9) scale(1,1.0)" font-size="24" text-anchor="end" stroke="#000" stroke-width="0.25">30</text><text transform="translate(97.8,108.9) scale(1,1.0)" font-size="24" text-anchor="end" stroke="#000" stroke-width="0.25">20</text><text transform="translate(97.8,172.9) scale(1,1.0)" font-size="24" text-anchor="end" stroke="#000" stroke-width="0.25">10</text><text transform="translate(97.8,236.9) scale(1,1.0)" font-size="24" text-anchor="end" stroke="#000" stroke-width="0.25">0</text><text transform="translate(190.5,286.4) scale(1,1.0)" font-size="24" text-anchor="middle" stroke="#000" stroke-width="0.25">10</text><text transform="translate(278.2,286.4) scale(1,1.0)" font-size="24" text-anchor="middle" stroke="#000" stroke-width="0.25">20</text><text transform="translate(365.9,286.4) scale(1,1.0)" font-size="24" text-anchor="middle" stroke="#000" stroke-width="0.25">30</text><text transform="translate(453.59999999999997,286.4) scale(1,1.0)" font-size="24" text-anchor="middle" stroke="#000" stroke-width="0.25">40</text><text transform="translate(541.3,286.4) scale(1,1.0)" font-size="24" text-anchor="middle" stroke="#000" stroke-width="0.25">50</text>
<text class="lb" x="183" y="96" letter-spacing="0.35">Summed</text>
<text class="lb" x="453.3" y="184.8" letter-spacing="0.9">Pert</text>
<text class="lb" x="132.4" y="213.1" letter-spacing="-0.25">Asym</text>
<g font-weight="bold" fill="#000">
<text x="246.2" y="320.7" font-size="32" font-style="italic">q</text>
<text x="264.2" y="330.6" font-size="23.8" font-style="italic">T</text>
<text x="299.8" y="320.9" font-size="29.6" stroke="#000" stroke-width="0.2">(</text>
<text transform="translate(313.6,320.9) scale(0.975,1.045)" font-size="30.5" stroke="#000" stroke-width="0.3">G</text>
<text transform="translate(339.3,320.9) scale(0.99,1.045)" font-size="30.5" stroke="#000" stroke-width="0.3">e</text>
<text transform="translate(360.2,320.9) scale(0.98,1.045)" font-size="30.5" stroke="#000" stroke-width="0.3">V</text>
<text x="383.7" y="320.9" font-size="29.6" stroke="#000" stroke-width="0.2">)</text>
</g>
<g transform="translate(46.5,190) rotate(-90)" font-weight="bold" font-style="italic">
<text x="0" y="0" font-size="43.5">q</text>
<text x="29.2" y="-7.6" font-size="24.5">2</text>
<text x="24.6" y="9.5" font-size="22">T</text>
<text x="58.1" y="0" font-size="43">d</text>
<text transform="translate(78.6,-0.6) scale(1.17,1)" font-size="42" font-weight="normal" font-style="normal" style="font-family:'Liberation Serif',serif">Σ</text>
</g>
<path d="M33.9,66.6 L56,70.9 L56,75.8 L40.9,72.9 L40.9,77.8 L38.2,77.2 L38,73.4 Q35.5,71.2 34.4,69 Z" fill="#000"/>
</svg>
</body></html>
